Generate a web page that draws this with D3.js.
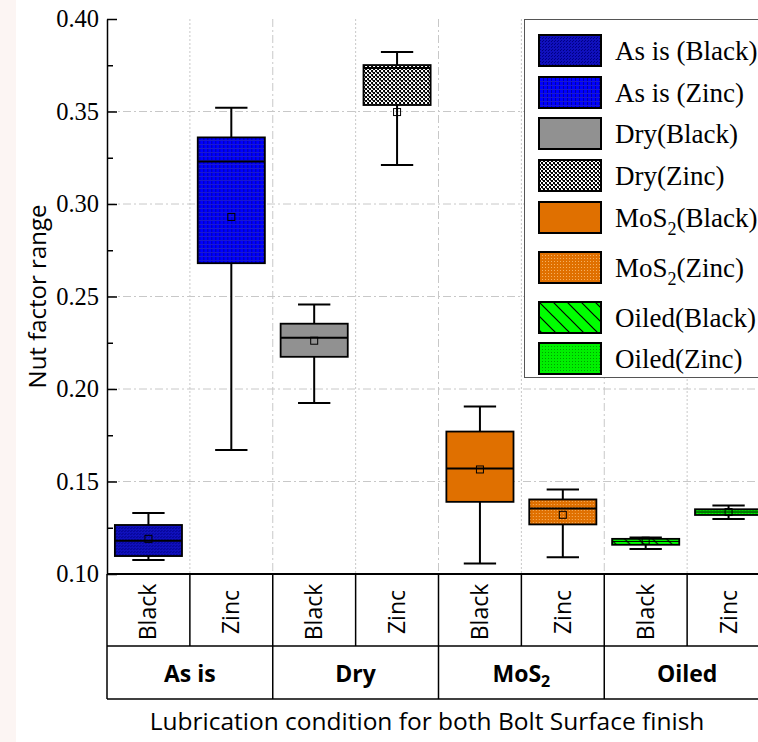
<!DOCTYPE html>
<html>
<head>
<meta charset="utf-8">
<script src="https://cdn.jsdelivr.net/npm/d3@7"></script>
<style>
  body { margin: 0; background: #fff; }
  svg { display: block; }
  .serif { font-family: "Liberation Serif", "Times New Roman", serif; }
  .sans { font-family: "Open Sans", sans-serif; }
</style>
</head>
<body>
<script>
// data
const groups = ["As is", "Dry", "MoS2", "Oiled"];
const finishes = ["Black", "Zinc"];
const categories = ["AsIs-Black", "AsIs-Zinc", "Dry-Black", "Dry-Zinc", "MoS2-Black", "MoS2-Zinc", "Oiled-Black", "Oiled-Zinc"];
const whiskerLow  = [0.1076, 0.167, 0.1924, 0.3211, 0.1057, 0.109, 0.1135, 0.1297];
const q1          = [0.1097, 0.268, 0.2174, 0.3535, 0.139, 0.1268, 0.1158, 0.1319];
const median      = [0.118, 0.323, 0.2277, 0.3735, 0.157, 0.1354, 0.1176, 0.1335];
const q3          = [0.1265, 0.336, 0.2353, 0.3751, 0.177, 0.1403, 0.1190, 0.1350];
const whiskerHigh = [0.133, 0.352, 0.2457, 0.3822, 0.1905, 0.1457, 0.1197, 0.1370];
const means       = [0.119, 0.293, 0.2261, 0.3497, 0.1565, 0.132, 0.1180, 0.1335];
const yTicks = [0.10, 0.15, 0.20, 0.25, 0.30, 0.35, 0.40];
const yMinorTicks = [0.125, 0.175, 0.225, 0.275, 0.325, 0.375];
const legendLabels = [
  ["As is (Black)"], ["As is (Zinc)"], ["Dry(Black)"], ["Dry(Zinc)"],
  ["MoS", "2", "(Black)"], ["MoS", "2", "(Zinc)"], ["Oiled(Black)"], ["Oiled(Zinc)"]
];

const W = 758, H = 742;
const svg = d3.select("body").append("svg").attr("width", W).attr("height", H);

// faint strip on the far left of the original
svg.append("rect").attr("x", 0).attr("y", 0).attr("width", 16).attr("height", H).attr("fill", "#fcf5f3");

const x = d3.scaleBand().domain(categories).range([107, 770]).paddingInner(0).paddingOuter(0);
const y = d3.scaleLinear().domain([0.10, 0.40]).range([574, 19]);
const bw = x.bandwidth();

// patterns
const defs = svg.append("defs");
function pat(id, w, h) {
  return defs.append("pattern").attr("id", id).attr("patternUnits", "userSpaceOnUse")
    .attr("width", w).attr("height", h);
}
let p = pat("pAsBlack", 3, 3);
p.append("rect").attr("width", 3).attr("height", 3).attr("fill", "#1010bc");
p.append("rect").attr("width", 1).attr("height", 1).attr("fill", "#000080");
p.append("rect").attr("x", 1).attr("y", 2).attr("width", 1).attr("height", 1).attr("fill", "#000088");

p = pat("pAsZinc", 4, 4);
p.append("rect").attr("width", 4).attr("height", 4).attr("fill", "#0000ff");
p.append("rect").attr("width", 1).attr("height", 4).attr("fill", "#0000a8");
p.append("rect").attr("width", 4).attr("height", 1).attr("fill", "#1a1acc");

p = pat("pDryZinc", 4, 4);
p.append("rect").attr("width", 4).attr("height", 4).attr("fill", "#fff");
p.append("rect").attr("width", 2).attr("height", 2).attr("fill", "#000");
p.append("rect").attr("x", 2).attr("y", 2).attr("width", 2).attr("height", 2).attr("fill", "#000");
p.append("rect").attr("x", 3).attr("y", 0).attr("width", 1).attr("height", 1).attr("fill", "#555");

p = pat("pMoZinc", 3, 3);
p.append("rect").attr("width", 3).attr("height", 3).attr("fill", "#e07000");
p.append("rect").attr("width", 1).attr("height", 1).attr("fill", "#f6b060");

p = pat("pOilBlack", 14, 14);
p.append("rect").attr("width", 14).attr("height", 14).attr("fill", "#00ff00");
p.append("path").attr("d", "M0,0 L14,14 M-7,7 L7,21 M7,-7 L21,7").attr("stroke", "#000").attr("stroke-width", 1.2);

p = pat("pOilZinc", 3, 3);
p.append("rect").attr("width", 3).attr("height", 3).attr("fill", "#00f000");
p.append("rect").attr("width", 1).attr("height", 1).attr("fill", "#00a000");

const fills = ["url(#pAsBlack)", "url(#pAsZinc)", "#919191", "url(#pDryZinc)",
  "#e07000", "url(#pMoZinc)", "url(#pOilBlack)", "url(#pOilZinc)"];

// grid
const grid = svg.append("g");
grid.selectAll(".hg").data(yTicks.filter(v => v > 0.10 && v < 0.40)).enter()
  .append("line")
  .attr("x1", 107).attr("x2", W)
  .attr("y1", d => y(d)).attr("y2", d => y(d))
  .attr("stroke", "#c8c8c8").attr("stroke-width", 1).attr("stroke-dasharray", "8,3,2,3");
grid.selectAll(".vg").data(categories.slice(1)).enter()
  .append("line")
  .attr("x1", d => x(d)).attr("x2", d => x(d))
  .attr("y1", 19).attr("y2", 574)
  .attr("stroke", "#c8c8c8").attr("stroke-width", 1)
  .attr("stroke-dasharray", (d, i) => i % 2 === 1 ? "8,3,2,3" : "2,2");

// boxes
const boxW = bw * 0.81, capW = bw * 0.39;
const boxes = svg.append("g").selectAll("g").data(categories).enter().append("g")
  .attr("transform", d => "translate(" + (x(d) + bw / 2) + ",0)");

boxes.append("line")
  .attr("y1", (d, i) => y(whiskerHigh[i])).attr("y2", (d, i) => y(q3[i]))
  .attr("stroke", "#000").attr("stroke-width", 2);
boxes.append("line")
  .attr("y1", (d, i) => y(q1[i])).attr("y2", (d, i) => y(whiskerLow[i]))
  .attr("stroke", "#000").attr("stroke-width", 2);
boxes.append("line")
  .attr("x1", -capW / 2).attr("x2", capW / 2)
  .attr("y1", (d, i) => y(whiskerHigh[i])).attr("y2", (d, i) => y(whiskerHigh[i]))
  .attr("stroke", "#000").attr("stroke-width", 2);
boxes.append("line")
  .attr("x1", -capW / 2).attr("x2", capW / 2)
  .attr("y1", (d, i) => y(whiskerLow[i])).attr("y2", (d, i) => y(whiskerLow[i]))
  .attr("stroke", "#000").attr("stroke-width", 2);
boxes.append("rect")
  .attr("x", -boxW / 2).attr("width", boxW)
  .attr("y", (d, i) => y(q3[i]))
  .attr("height", (d, i) => y(q1[i]) - y(q3[i]))
  .attr("fill", (d, i) => fills[i])
  .attr("stroke", "#000").attr("stroke-width", 1.8);
boxes.append("line")
  .attr("x1", -boxW / 2).attr("x2", boxW / 2)
  .attr("y1", (d, i) => y(median[i])).attr("y2", (d, i) => y(median[i]))
  .attr("stroke", "#000").attr("stroke-width", (d, i) => (y(q1[i]) - y(q3[i])) < 8 ? 1 : 2);
boxes.append("rect")
  .attr("x", -3.5).attr("width", 7).attr("height", 7)
  .attr("y", (d, i) => y(means[i]) - 3.5)
  .attr("fill", "none").attr("stroke", "#000").attr("stroke-width", 1);

// y axis
const yAxis = d3.axisLeft(y).tickValues(yTicks).tickFormat(d3.format(".2f"))
  .tickSizeInner(-10).tickSizeOuter(0).tickPadding(8);
const ya = svg.append("g").attr("transform", "translate(107,0)").call(yAxis);
ya.attr("font-family", null).attr("font-size", null);
ya.select(".domain").attr("stroke-width", 1.5);
ya.selectAll(".tick line").attr("stroke-width", 1.5);
ya.selectAll(".tick text")
  .attr("class", "serif")
  .style("font-family", "'Liberation Serif', 'Times New Roman', serif")
  .style("font-size", "24.5px").style("fill", "#000");
svg.append("g").attr("transform", "translate(107,0)")
  .call(d3.axisLeft(y).tickValues(yMinorTicks).tickFormat("").tickSizeInner(-6).tickSizeOuter(0))
  .call(g => g.select(".domain").remove())
  .selectAll(".tick line").attr("stroke-width", 1.5);

svg.append("text")
  .attr("class", "sans")
  .attr("transform", "translate(46," + ((19 + 574) / 2) + ") rotate(-90)")
  .attr("text-anchor", "middle")
  .style("font-size", "24px")
  .text("Nut factor range");

// table under the x axis
const tbl = svg.append("g");
const rowTop = 574, rowMid = 646, rowBot = 699;
tbl.append("line").attr("x1", 107).attr("x2", W).attr("y1", rowTop).attr("y2", rowTop)
  .attr("stroke", "#000").attr("stroke-width", 2);
tbl.append("line").attr("x1", 107).attr("x2", W).attr("y1", rowMid).attr("y2", rowMid)
  .attr("stroke", "#000").attr("stroke-width", 1.5);
tbl.append("line").attr("x1", 107).attr("x2", W).attr("y1", rowBot).attr("y2", rowBot)
  .attr("stroke", "#000").attr("stroke-width", 1.5);
tbl.append("line").attr("x1", 107).attr("x2", 107).attr("y1", rowTop).attr("y2", rowBot)
  .attr("stroke", "#000").attr("stroke-width", 1.5);
tbl.selectAll(".sep").data(categories.slice(1)).enter().append("line")
  .attr("x1", d => x(d)).attr("x2", d => x(d))
  .attr("y1", rowTop)
  .attr("y2", (d, i) => i % 2 === 1 ? rowBot : rowMid)
  .attr("stroke", "#000").attr("stroke-width", 1.5);
tbl.selectAll(".fin").data(categories).enter().append("text")
  .attr("class", "sans")
  .attr("transform", d => "translate(" + (x(d) + bw / 2 + 8) + "," + ((rowTop + rowMid) / 2 + 2) + ") rotate(-90)")
  .attr("text-anchor", "middle")
  .style("font-size", "23px")
  .text((d, i) => finishes[i % 2]);
tbl.selectAll(".grp").data(groups).enter().append("text")
  .attr("class", "sans")
  .attr("x", (d, i) => x(categories[i * 2]) + bw)
  .attr("y", (rowMid + rowBot) / 2 + 9)
  .attr("text-anchor", "middle")
  .style("font-size", "23px").style("font-weight", "bold")
  .each(function(d) {
    const t = d3.select(this);
    if (d === "MoS2") {
      t.append("tspan").text("MoS");
      t.append("tspan").style("font-size", "16px").attr("dy", 5).text("2");
    } else {
      t.text(d);
    }
  });

svg.append("text")
  .attr("class", "sans")
  .attr("x", 427).attr("y", 730)
  .attr("text-anchor", "middle")
  .style("font-size", "24.5px")
  .text("Lubrication condition for both Bolt Surface finish");

// legend
const leg = svg.append("g");
leg.append("rect").attr("x", 524.5).attr("y", 19.5).attr("width", 260).attr("height", 358)
  .attr("fill", "#fff").attr("stroke", "#555").attr("stroke-width", 1);
const legY = [35, 77, 118, 160, 202, 252, 302, 343];
const items = leg.selectAll(".li").data(legendLabels).enter().append("g")
  .attr("transform", (d, i) => "translate(539," + legY[i] + ")");
items.append("rect").attr("width", 62).attr("height", 31)
  .attr("fill", (d, i) => fills[i]).attr("stroke", "#000").attr("stroke-width", 2);
items.append("text")
  .attr("class", "serif")
  .attr("x", 76).attr("y", 25)
  .style("font-size", "27px")
  .each(function(d) {
    const t = d3.select(this);
    if (d.length === 1) { t.text(d[0]); return; }
    t.append("tspan").text(d[0]);
    t.append("tspan").style("font-size", "18px").attr("dy", 8).text(d[1]);
    t.append("tspan").attr("dy", -8).text(d[2]);
  });
</script>
</body>
</html>
